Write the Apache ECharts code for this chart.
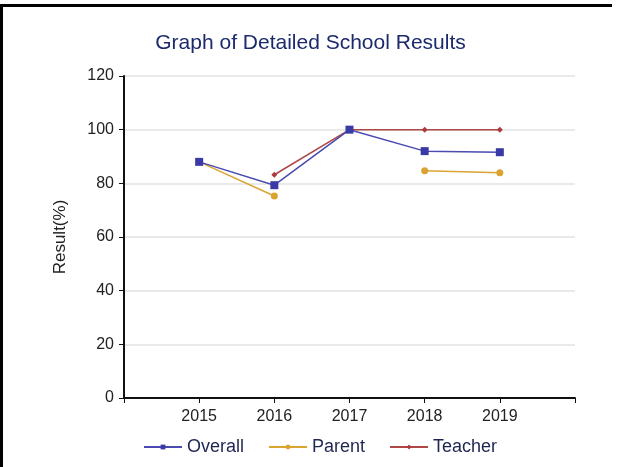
<!DOCTYPE html>
<html>
<head>
<meta charset="utf-8">
<script src="https://cdn.jsdelivr.net/npm/echarts@6/dist/echarts.min.js"></script>
<style>
  html, body { margin: 0; padding: 0; background: #fff; }
  .frame { position: relative; width: 621px; height: 467px; }
  .frame .top { position: absolute; left: 0; top: 4px; width: 612px; height: 3px; background: #000; }
  .frame .left { position: absolute; left: 0; top: 4px; width: 3px; height: 463px; background: #000; }
  #chart { position: absolute; left: 0; top: 0; width: 621px; height: 467px; }
</style>
</head>
<body>
<div class="frame">
  <div id="chart"></div>
  <div class="top"></div>
  <div class="left"></div>
</div>
<script>
  // years shown on the x axis (empty slots at both ends)
  const years = ['2015', '2016', '2017', '2018', '2019'];
  const overall = [88, 79.3, 100, 92, 91.6];
  const parent = [88, 75.3, null, 84.7, 83.9];
  const teacher = [null, 83.2, 100, 100, 100];

  const yTicks = [0, 20, 40, 60, 80, 100, 120];

  const pad = arr => [null].concat(arr, [null]);
  const cats = [''].concat(years, ['']);

  const font = 'Liberation Sans, Arial, sans-serif';
  const chart = echarts.init(document.getElementById('chart'));

  const option = {
    animation: false,
    textStyle: { fontFamily: font },
    title: {
      text: 'Graph of Detailed School Results',
      left: 'center',
      top: 28,
      textStyle: { color: '#1c2a6b', fontSize: 21, fontWeight: 'normal', fontFamily: font }
    },
    grid: { left: 124, right: 46, top: 76, bottom: 69 },
    legend: {
      bottom: 6,
      left: 138,
      itemWidth: 38,
      itemHeight: 6,
      itemGap: 24,
      textStyle: { color: '#1e2550', fontSize: 18, fontFamily: font },
      data: ['Overall', 'Parent', 'Teacher']
    },
    xAxis: {
      type: 'category',
      data: cats,
      boundaryGap: false,
      axisLine: { lineStyle: { color: '#111', width: 2 } },
      axisTick: { show: true, length: 5, lineStyle: { color: '#111' } },
      axisLabel: { color: '#222', fontSize: 16, margin: 11, fontFamily: font },
      splitLine: { show: false }
    },
    yAxis: {
      type: 'value',
      min: yTicks[0],
      max: yTicks[yTicks.length - 1],
      interval: 20,
      name: 'Result(%)',
      nameLocation: 'middle',
      nameGap: 55,
      nameTextStyle: { color: '#222', fontSize: 17, fontFamily: font },
      axisLine: { show: true, lineStyle: { color: '#111', width: 2 } },
      axisTick: { show: true, length: 5, lineStyle: { color: '#111' } },
      axisLabel: { color: '#222', fontSize: 16, margin: 10, fontFamily: font },
      splitLine: { lineStyle: { color: '#e2e2e2', width: 1.5 } }
    },
    series: [
      {
        name: 'Overall',
        type: 'line',
        data: pad(overall),
        symbol: 'rect',
        symbolSize: 8,
        z: 3,
        itemStyle: { color: '#3a3aa6' },
        lineStyle: { color: '#4a4ab0', width: 1.5 }
      },
      {
        name: 'Parent',
        type: 'line',
        data: pad(parent),
        symbol: 'circle',
        symbolSize: 7,
        z: 2,
        itemStyle: { color: '#dba432' },
        lineStyle: { color: '#dba432', width: 1.5 }
      },
      {
        name: 'Teacher',
        type: 'line',
        data: pad(teacher),
        symbol: 'diamond',
        symbolSize: 6,
        z: 2,
        itemStyle: { color: '#ae3b3b' },
        lineStyle: { color: '#ae4848', width: 1.5 }
      }
    ]
  };
  chart.setOption(option);
</script>
</body>
</html>
